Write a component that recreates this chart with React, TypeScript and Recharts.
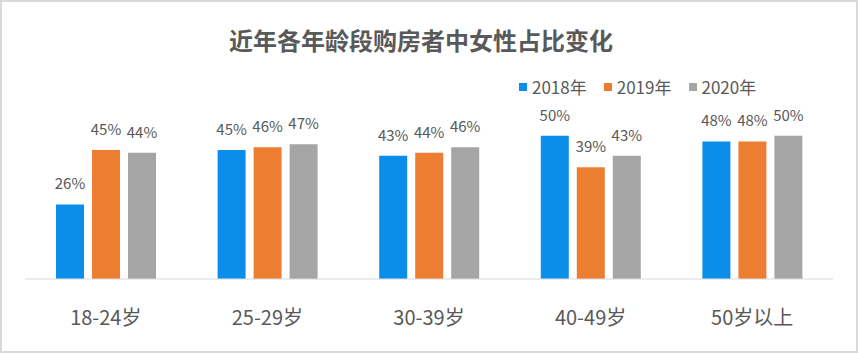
import { BarChart, Bar, XAxis, YAxis, Legend, LabelList } from "recharts";

const categories = ["18-24岁", "25-29岁", "30-39岁", "40-49岁", "50岁以上"];
const y2018 = [26, 45, 43, 50, 48];
const y2019 = [45, 46, 44, 39, 48];
const y2020 = [44, 47, 46, 43, 50];

const seriesNames = ["2018年", "2019年", "2020年"];
const colors = ["#0B8DEA", "#ED7D31", "#A5A5A5"];

const FONT = '"Noto Sans CJK SC", "Noto Sans", sans-serif';
const TEXT = "#595959";

const data = categories.map((name, i) => ({
  name,
  s2018: y2018[i],
  s2019: y2019[i],
  s2020: y2020[i],
}));

const CategoryTick = (props: any) => {
  const { x, y, payload } = props;
  return (
    <text
      x={x}
      y={y + 33}
      textAnchor="middle"
      dominantBaseline="middle"
      fill={TEXT}
      fontSize={20}
      fontFamily={FONT}
    >
      {payload.value}
    </text>
  );
};

const renderLegend = () => (
  <div style={{ display: "flex", alignItems: "center", fontFamily: FONT, fontSize: 17, color: TEXT }}>
    {seriesNames.map((n, i) => (
      <div key={n} style={{ display: "flex", alignItems: "center", marginRight: 17 }}>
        <span style={{ width: 8, height: 8, background: colors[i], marginRight: 5, display: "inline-block" }} />
        <span>{n}</span>
      </div>
    ))}
  </div>
);

const App = () => {
  const keys = ["s2018", "s2019", "s2020"];
  return (
    <div style={{ position: "relative", width: 858, height: 353, background: "#fff" }}>
      <style>{"body{margin:0}"}</style>
      <div
        style={{
          position: "absolute",
          left: 229,
          top: 24,
          fontFamily: FONT,
          fontWeight: "bold",
          fontSize: 24,
          color: TEXT,
          lineHeight: "32px",
          whiteSpace: "nowrap",
        }}
      >
        近年各年龄段购房者中女性占比变化
      </div>
      <BarChart
        width={858}
        height={353}
        data={data}
        margin={{ top: 107, right: 25, left: 25, bottom: 34 }}
        barSize={28}
        barGap={8}
      >
        <XAxis
          dataKey="name"
          axisLine={{ stroke: "#D9D9D9", strokeWidth: 1 }}
          tickLine={false}
          tick={<CategoryTick />}
          height={40}
          interval={0}
        />
        <YAxis hide domain={[0, 60]} />
        <Legend
          layout="horizontal"
          verticalAlign="middle"
          align="center"
          content={renderLegend}
          wrapperStyle={{ top: 74, left: 519, width: 300, height: 24 }}
        />
        {keys.map((k, i) => (
          <Bar key={k} dataKey={k} name={seriesNames[i]} fill={colors[i]} isAnimationActive={false}>
            <LabelList
              dataKey={k}
              position="top"
              offset={15}
              formatter={(v: any) => `${v}%`}
              fill={TEXT}
              fontSize={15}
              fontFamily={FONT}
            />
          </Bar>
        ))}
      </BarChart>
      <div
        style={{
          position: "absolute",
          left: 0,
          top: 0,
          width: 858,
          height: 353,
          boxSizing: "border-box",
          border: "2px solid #D9D9D9",
          pointerEvents: "none",
        }}
      />
    </div>
  );
};

export default App;
